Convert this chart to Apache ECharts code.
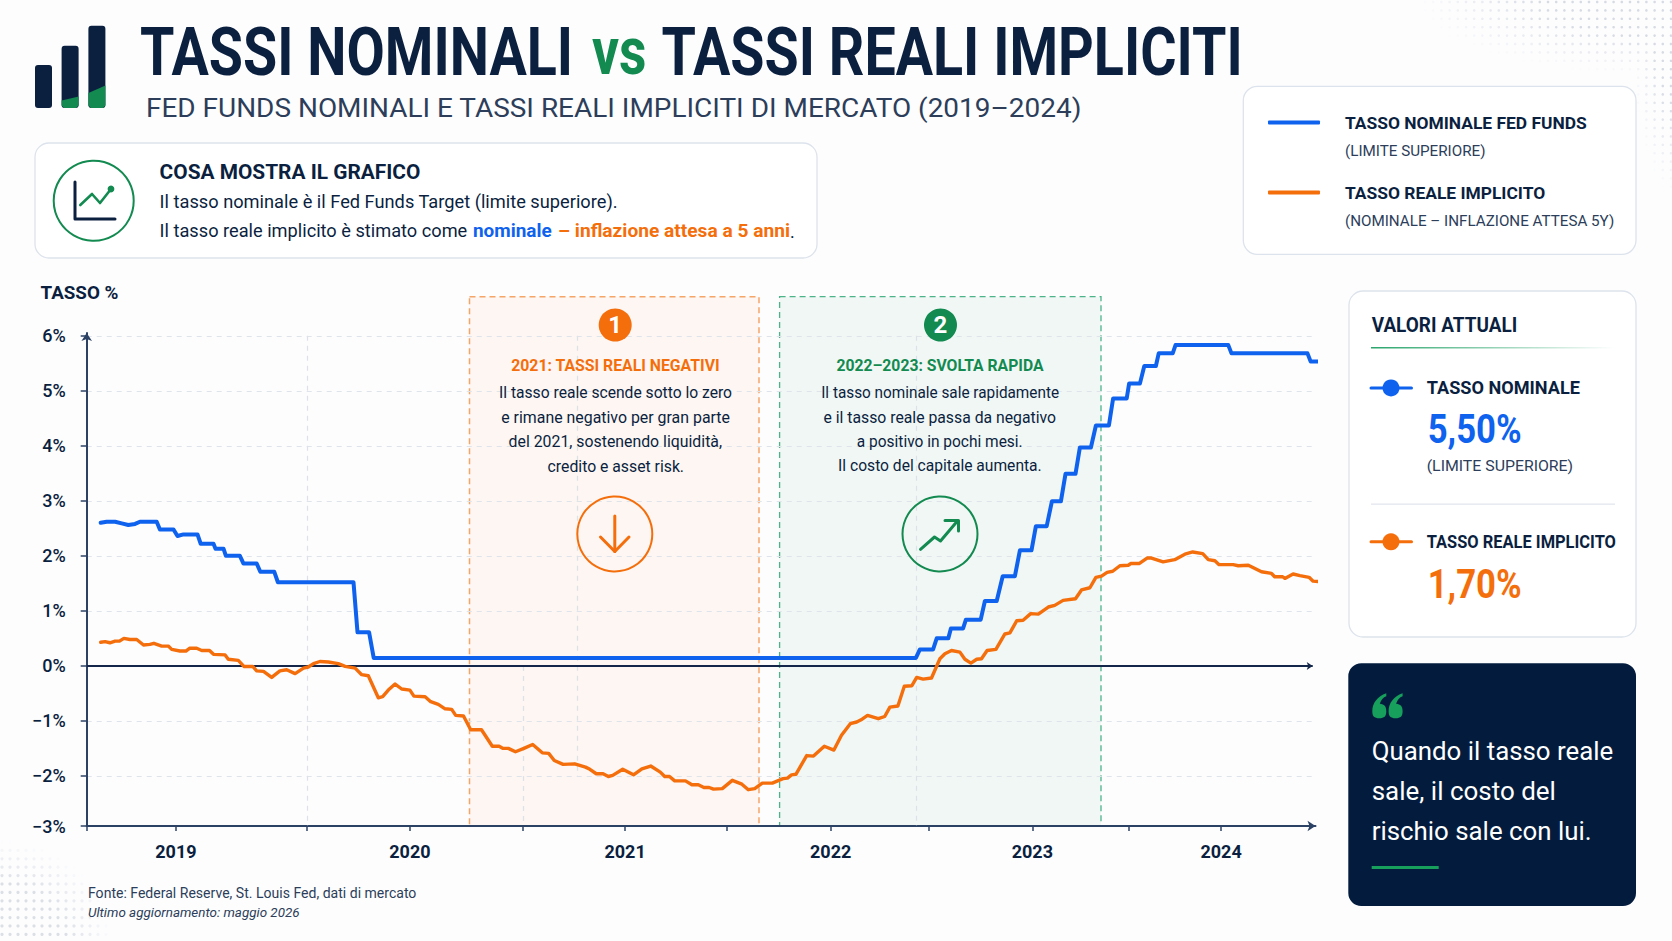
<!DOCTYPE html>
<html><head><meta charset="utf-8">
<style>html,body{margin:0;padding:0;background:#fdfdfe}#c{width:1672px;height:941px}</style>
<script src="https://cdn.jsdelivr.net/npm/echarts@6/dist/echarts.min.js"></script>
</head><body><div id="c"></div>
<script>
// ---- Data (x in weeks along the time axis, y in %) ----
const nominalWeeks = [3.5,5,7.1,8.75,10.4,12.1,13.3,17.5,18.3,21.7,22.7,24.2,27.7,28.5,31.7,32.2,34.2,34.8,38.3,39.2,42.5,43.4,46.9,47.8,66.7,67.7,70.6,71.75,207.3,208.3,211.6,212.5,215.4,216.05,219.1,219.8,223.5,224.55,227.5,229,232.05,233.3,236.2,237.3,240,241.3,243.55,244.7,247.2,248.3,251.05,252.3,255.55,256.6,260,260.6,263.3,264.4,267.3,268,271.5,272.2,285.4,286.2,305.2,306,308.3];
const nominalRates = [2.6,2.62,2.62,2.59,2.56,2.58,2.62,2.62,2.48,2.48,2.36,2.39,2.39,2.22,2.22,2.13,2.13,2,2,1.86,1.86,1.71,1.71,1.52,1.52,0.61,0.61,0.145,0.145,0.3,0.3,0.5,0.5,0.68,0.68,0.84,0.84,1.18,1.18,1.63,1.63,2.1,2.1,2.54,2.54,2.99,2.99,3.49,3.49,3.97,3.97,4.37,4.37,4.86,4.86,5.13,5.13,5.45,5.45,5.68,5.68,5.83,5.83,5.68,5.68,5.53,5.53];
const realWeeks = [3.5,4.6,5.8,7.1,8.2,9.3,10.8,12.5,14.2,15.8,16.8,18.75,20.4,21.25,23.3,24.8,25.7,27.5,28.75,30.7,31.7,34.6,35.4,37.9,39.3,41.5,42.5,44.2,46.25,48.3,50,52.1,54.2,55.4,56.7,58.3,60.4,62.9,64.6,67.1,68.75,70.4,72.9,74,75.4,77.1,78.75,80.8,81.8,84.6,86,87.9,89.6,91.25,92.25,94.2,96,98.7,101.4,103.1,104.1,105.4,107.2,109.3,111.5,113.9,115.5,116.9,119.1,122,124.7,125.8,127.4,129.1,130.4,131.5,134,136.7,138.8,141,143.4,144.5,145.7,147,149.7,151.3,152.9,154.3,155.6,156.7,158.9,161.4,163.8,165.4,167,168.9,171.4,174.1,175.2,176.2,177.3,180,181.7,184.4,186.8,188.7,190.9,192.5,193.6,195.2,197.9,199.5,200.8,202.8,204.4,206.3,207.5,209.1,211.2,213.3,214.55,216.2,218.3,219.55,221.05,222.5,223.7,225.1,227.3,229.55,230.8,232.5,234.1,236,237.9,240.4,242,244.1,247.2,248.7,250.8,252.3,253.7,255.1,256.5,258.3,260.4,261.05,263.1,265.1,266.2,269.1,272,274.55,276.5,279,280.4,282.05,283.1,286.6,287.9,290.4,293.7,296.2,297,299,299.55,301.6,303.3,305.6,306.6,308.3];
const realRates = [0.43,0.44,0.42,0.45,0.45,0.5,0.48,0.48,0.38,0.39,0.41,0.36,0.36,0.3,0.27,0.27,0.32,0.32,0.28,0.28,0.21,0.2,0.12,0.1,-0.01,-0.01,-0.09,-0.1,-0.21,-0.09,-0.07,-0.14,-0.04,-0.02,0.04,0.08,0.07,0.04,-0.01,-0.04,-0.16,-0.18,-0.58,-0.56,-0.44,-0.33,-0.42,-0.44,-0.55,-0.56,-0.65,-0.7,-0.78,-0.79,-0.9,-0.91,-1.16,-1.16,-1.46,-1.46,-1.5,-1.5,-1.56,-1.5,-1.43,-1.58,-1.59,-1.72,-1.79,-1.78,-1.84,-1.88,-1.96,-1.96,-2.01,-1.99,-1.88,-1.98,-1.87,-1.82,-1.93,-2.01,-2.01,-2.09,-2.09,-2.16,-2.16,-2.21,-2.21,-2.24,-2.23,-2.08,-2.15,-2.25,-2.23,-2.13,-2.13,-2.05,-2.04,-1.98,-1.97,-1.63,-1.64,-1.46,-1.53,-1.26,-1.05,-1.02,-0.98,-0.9,-0.96,-0.92,-0.75,-0.73,-0.37,-0.36,-0.21,-0.24,-0.22,0.13,0.22,0.28,0.25,0.12,0.05,0.12,0.13,0.28,0.3,0.58,0.6,0.82,0.83,0.95,0.94,1.07,1.1,1.19,1.22,1.38,1.42,1.61,1.63,1.7,1.72,1.82,1.83,1.86,1.86,1.96,1.96,1.89,1.93,2.03,2.07,2.04,1.93,1.91,1.84,1.84,1.82,1.83,1.71,1.68,1.62,1.62,1.59,1.67,1.64,1.61,1.54,1.53];
const yearLabels = ['2019','2020','2021','2022','2023','2024'];
const yearWeeks = [22.3,80.8,134.6,186,236.4,283.6];
const midYearWeeks = [0,55.1,109.1,160.1,210.6,260.6];
const yTickValues = [-2.91,-2,-1,0,1,2,3,4,5,6];
const yTickLabels = ['−3%','−2%','−1%','0%','1%','2%','3%','4%','5%','6%'];
const seriesNames = ['TASSO NOMINALE FED FUNDS','TASSO REALE IMPLICITO'];
const seriesNotes = ['(LIMITE SUPERIORE)','(NOMINALE – INFLAZIONE ATTESA 5Y)'];

const NAVY='#0b1f3f', BLUE='#0f62ee', ORANGE='#f46e0c', GREEN='#128a50', SLATE='#2c3e5a', FONT='Roboto';
const ctx=document.createElement('canvas').getContext('2d');
const els=[];
// text stretched horizontally to the width it occupies in the reference
function T(text,x,y,size,weight,fill,w,opt){opt=opt||{};
  const st=opt.italic?'italic ':'';const font=st+weight+' '+size+'px '+(opt.family||FONT);
  ctx.font=font;const m=ctx.measureText(text).width;
  els.push({type:'text',x:x,y:y,scaleX:w?w/m:1,z:20,silent:true,
    style:{text:text,x:0,y:0,fill:fill,font:font,align:opt.align||'left',verticalAlign:'middle'}});}
function R(x,y,w,h,r,fill,stroke,lw,z,dash){els.push({type:'rect',z:z==null?-5:z,silent:true,shape:{x,y,width:w,height:h,r},
  style:{fill:fill,stroke:stroke||null,lineWidth:lw||0,lineDash:dash||null}});}
function C(cx,cy,r,fill,stroke,lw,z){els.push({type:'circle',z:z==null?15:z,silent:true,shape:{cx,cy,r},style:{fill:fill,stroke:stroke||null,lineWidth:lw||0}});}
function P(pts,stroke,lw,z){els.push({type:'polyline',z:z==null?15:z,silent:true,shape:{points:pts},style:{fill:null,stroke:stroke,lineWidth:lw,lineCap:'round',lineJoin:'round'}});}

// decorative dots
for(let i=0;i<32;i++)for(let j=0;j<24;j++){const x=1425+8.2*i,y=2+8.4*j;
  const a=Math.max(1-Math.hypot((1672-x)/255,y/76),1-Math.hypot((1672-x)/42,y/195));
  if(a>0)els.push({type:'circle',z:-9,silent:true,shape:{cx:x,cy:y,r:1.3},style:{fill:'#c9cfdb',opacity:Math.min(.75,a*1.5)}});}
for(let i=0;i<15;i++)for(let j=0;j<13;j++){const x=2+8*i,y=842+8.4*j;
  const a=1-Math.hypot(x/112,(941-y)/100);
  if(a>0)els.push({type:'circle',z:-9,silent:true,shape:{cx:x,cy:y,r:1.6},style:{fill:'#cfd4de',opacity:Math.min(.75,a*1.8)}});}

// logo
R(35,65,17,43,3,NAVY,null,0,5);R(61.6,45.7,17,62.3,3,NAVY,null,0,5);R(88.4,25.7,17,82.3,3,NAVY,null,0,5);
els.push({type:'polygon',z:6,silent:true,shape:{points:[[61.6,100.5],[78.6,96.5],[78.6,105.5],[76,108],[64,108],[61.6,105.5]]},style:{fill:GREEN}});
els.push({type:'polygon',z:6,silent:true,shape:{points:[[88.4,93],[105.4,85.5],[105.4,105.5],[103,108],[91,108],[88.4,105.5]]},style:{fill:GREEN}});

// title
T('TASSI NOMINALI',140,52,66,700,NAVY,433);
T('vs',592,51.5,66,700,GREEN,54.5);
T('TASSI REALI IMPLICITI',661.5,52,66,700,NAVY,581.5);
T('FED FUNDS NOMINALI E TASSI REALI IMPLICITI DI MERCATO (2019–2024)',146,108.5,26,400,SLATE,936);

// what-the-chart-shows box
R(35,143,782,115,14,'#ffffff','#dde3ec',1.3);
C(93.7,200.7,40,'#ffffff',GREEN,2,6);
P([[75,182],[75,219],[115,219]],NAVY,3);
P([[80.3,205],[92,194],[100,203],[111,189]],GREEN,2.6);
C(111,189,3.4,GREEN,null,0);
T('COSA MOSTRA IL GRAFICO',159.6,171.5,21,700,NAVY,261);
T('Il tasso nominale è il Fed Funds Target (limite superiore).',159.6,202,18,400,NAVY,459);
T('Il tasso reale implicito è stimato come',159.6,231,18,400,NAVY,308);
T('nominale',473,231,18,700,BLUE,78.7);
T('– inflazione attesa a 5 anni',558,231,18,700,ORANGE,232);
T('.',790,231,18,400,NAVY);

T('TASSO %',40.5,292.5,19,700,NAVY,78);

// annotation bands
R(469.5,296.7,289.5,529.3,0,'rgba(246,120,30,0.055)','#f6a568',1.5,-3,[6,4]);
R(779.6,296.7,321.4,529.3,0,'rgba(18,138,80,0.05)','#4db48a',1.3,-3,[6,4]);
C(615.2,325,16.5,ORANGE);T('1',615.2,325,24,700,'#ffffff',null,{align:'center'});
C(940.5,325,16.5,GREEN);T('2',940.5,325,24,700,'#ffffff',null,{align:'center'});
T('2021: TASSI REALI NEGATIVI',511.2,365.7,17,700,ORANGE,209);
T('2022–2023: SVOLTA RAPIDA',836.4,365.7,17,700,GREEN,207.3);
[['Il tasso reale scende sotto lo zero',499,233.3,392.7],['e rimane negativo per gran parte',501.2,229,417.3],['del 2021, sostenendo liquidità,',508.6,213.8,441.7],['credito e asset risk.',547.6,136.6,466]].forEach(a=>T(a[0],a[1],a[3],16,400,NAVY,a[2]));
[['Il tasso nominale sale rapidamente',821.2,238.1,392.5],['e il tasso reale passa da negativo',823.4,232.9,417],['a positivo in pochi mesi.',856.8,166.1,441.3],['Il costo del capitale aumenta.',838.1,203.8,465.5]].forEach(a=>T(a[0],a[1],a[3],16,400,NAVY,a[2]));
C(614.8,534,37.5,'rgba(255,255,255,0)',ORANGE,2);
P([[614.8,516],[614.8,551.5]],ORANGE,3);P([[600.5,537],[614.8,551.5],[629,537]],ORANGE,3);
C(940,534,37.5,'rgba(255,255,255,0)',GREEN,2);
P([[920.5,549.3],[934.5,537],[940.5,541],[957,521.5]],GREEN,3);P([[945,520.5],[958.5,520.5],[958.5,531]],GREEN,3);

// legend panel
R(1243.3,86.4,392.7,167.9,14,'#ffffff','#dde3ec',1.3);

// current-values panel
R(1349,291,287,346,14,'#ffffff','#dde3ec',1.3);
T('VALORI ATTUALI',1371.7,325.7,20,700,NAVY,145.6);
els.push({type:'rect',z:5,silent:true,shape:{x:1371,y:347,width:244,height:1.6},style:{fill:{type:'linear',x:0,y:0,x2:1,y2:0,colorStops:[{offset:0,color:'#2aa56c'},{offset:1,color:'rgba(42,165,108,0)'}]}}});
P([[1371,387.9],[1411.5,387.9]],BLUE,3);C(1391,387.9,8.5,BLUE);
T('TASSO NOMINALE',1426.7,387.5,19,700,NAVY,153.3);
T('5,50%',1427.7,429,40,700,BLUE,94);
T('(LIMITE SUPERIORE)',1426.7,465.7,15.5,400,SLATE,146.6);
R(1371,503.4,244,1.3,0,'#e1e5ec',null,0,5);
P([[1371,541.8],[1411.5,541.8]],ORANGE,3);C(1391,541.8,8.5,ORANGE);
T('TASSO REALE IMPLICITO',1426.7,541.5,18,700,NAVY,189.3);
T('1,70%',1427.7,584,40,700,ORANGE,94);

// quote panel
R(1348.3,663.3,287.7,242.7,13,'#031c3e');
echarts.graphic.registerShape('quoteMark',echarts.graphic.extendPath('M14 0C5 3 0 10 0 18C0 23 2 25 7 25C12 25 14 23 14 18C14 13 12 11 7.5 10.5C8.5 7 11 4 14 3Z'));
[1372.3,1388.6].forEach(x=>els.push({type:'quoteMark',z:15,silent:true,x:x,y:693.3,style:{fill:'#17a05c'}}));
T('Quando il tasso reale',1371.7,750.7,26,400,'#ffffff',241.6);
T('sale, il costo del',1371.7,791,26,400,'#ffffff',184.3);
T('rischio sale con lui.',1371.7,831,26,400,'#ffffff',220);
R(1371.7,866,67,3,0,'#17a05c',null,0,15);

// footer
T('Fonte: Federal Reserve, St. Louis Fed, dati di mercato',88,893,14,400,SLATE,328.7);
T('Ultimo aggiornamento: maggio 2026',88,913,13,400,SLATE,212,{italic:true});

// ---- Chart ----
const zip=(xs,ys)=>xs.map((x,i)=>[x,ys[i]]);
const gridLine={type:[5,5],color:'#dfe3ea',width:1.2};
const vGuides=[[55.1,6,-2.91],[109.1,0,-2.91],[122.6,6,-2],[207.3,6,-2.91]];
const option={
  animation:false,backgroundColor:'#fdfdfe',
  textStyle:{fontFamily:FONT},
  grid:{left:86.7,top:333,width:1228.8,height:493,containLabel:false},
  legend:{show:true,orient:'vertical',left:1268,top:94.1,padding:0,itemWidth:52,itemHeight:4,itemGap:6,selectedMode:false,icon:'roundRect',
    data:seriesNames,
    formatter:n=>'{s|}\n{a|'+n+'}\n{b|'+seriesNotes[seriesNames.indexOf(n)]+'}',
    textStyle:{rich:{
      s:{height:28,fontSize:1},
      a:{height:28,fontFamily:FONT,fontSize:17.4,fontWeight:700,color:NAVY,padding:[0,0,0,20]},
      b:{height:28,fontFamily:FONT,fontSize:15.2,fontWeight:400,color:SLATE,padding:[0,0,0,20]}}}},
  xAxis:{type:'value',min:0,max:307.2,
    axisLine:{onZero:false,lineStyle:{color:'#2c4264',width:2},symbol:['none','arrow'],symbolSize:[8,8]},
    axisTick:{show:true,length:5,lineStyle:{color:'#2c4264',width:1.5},customValues:midYearWeeks.concat(yearWeeks).sort((a,b)=>a-b)},
    axisLabel:{show:true,customValues:yearWeeks,margin:16,color:NAVY,fontFamily:FONT,fontSize:18,fontWeight:700,
      formatter:v=>yearLabels[yearWeeks.indexOf(v)]},
    splitLine:{show:false}},
  yAxis:{type:'value',min:-2.91,max:6.05,
    axisLine:{show:true,onZero:false,lineStyle:{color:'#2c4264',width:2},symbol:['none','arrow'],symbolSize:[8,8]},
    axisTick:{show:true,length:6,lineStyle:{color:'#2c4264',width:1.5},customValues:yTickValues},
    axisLabel:{show:true,customValues:yTickValues,margin:21,color:NAVY,fontFamily:FONT,fontSize:18,fontWeight:500,
      formatter:v=>yTickLabels[yTickValues.indexOf(v)]},
    splitLine:{show:true,lineStyle:gridLine}},
  graphic:{elements:els},
  series:[
    {name:'guide',type:'line',data:[],z:1,symbol:'none',silent:true,
      markLine:{silent:true,animation:false,symbol:'none',label:{show:false},
        data:vGuides.map(g=>[{coord:[g[0],g[1]],lineStyle:{type:[5,5],color:'#dde1e8',width:1.2}},{coord:[g[0],g[2]]}])
          .concat([[{coord:[0,0],symbol:'none',lineStyle:{type:'solid',color:'#14274a',width:2}},{coord:[306.5,0],symbol:'arrow',symbolSize:6}]])}},
    {name:seriesNames[0],type:'line',z:5,data:zip(nominalWeeks,nominalRates),showSymbol:false,symbol:'none',clip:false,
      lineStyle:{color:BLUE,width:4,join:'round',cap:'round'},itemStyle:{color:BLUE}},
    {name:seriesNames[1],type:'line',z:6,data:zip(realWeeks,realRates),showSymbol:false,symbol:'none',clip:false,
      lineStyle:{color:ORANGE,width:3.4,join:'round',cap:'round'},itemStyle:{color:ORANGE}}
  ]};
const chart=echarts.init(document.getElementById('c'),null,{renderer:'svg',width:1672,height:941});
chart.setOption(option);
</script></body></html>
